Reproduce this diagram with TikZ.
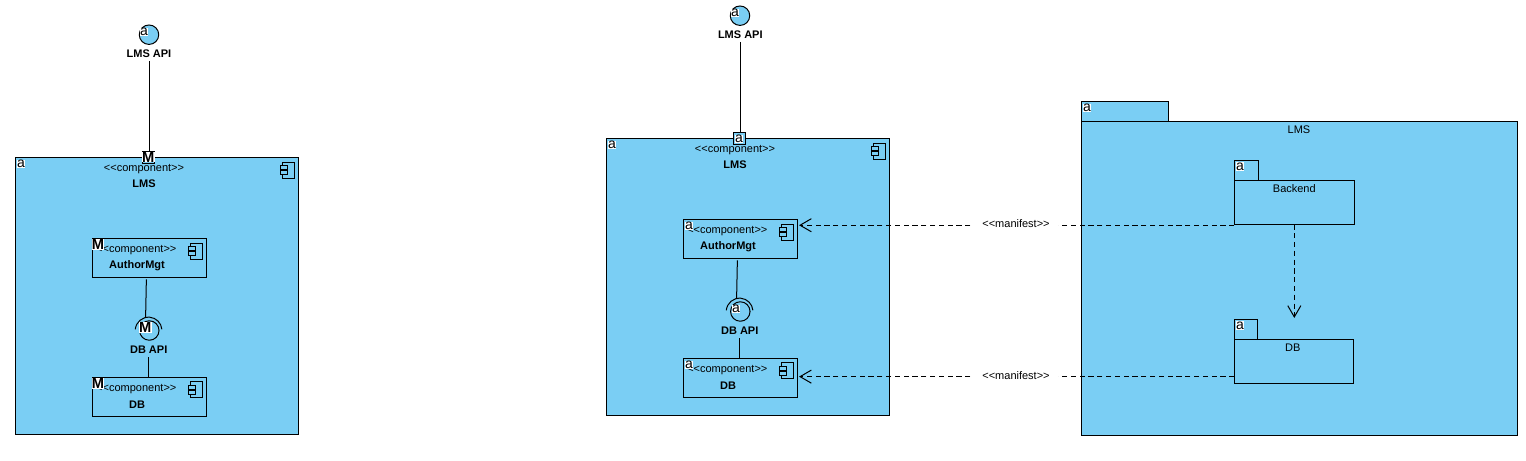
\documentclass[tikz,border=0pt]{standalone}
\usepackage{fontspec}
\setmainfont{Liberation Sans}
\usepackage{xcolor}
\usetikzlibrary{arrows.meta}

\definecolor{umlBlue}{HTML}{7ACEF4}

%small component glyph, hung from the top right corner of a box
\newcommand{\compIcon}[1]{
\begin{scope}[shift={(#1.north east)}]
\draw [fill=umlBlue] (-16,4.7) rectangle (-4.3,20.7);
\draw [fill=umlBlue] (-18.3,8) rectangle (-11,12);
\draw [fill=umlBlue] (-18.3,13) rectangle (-11,17);
\end{scope}
}
%stereotype text, the brackets kept apart so they stay two signs
\newcommand{\stereo}[1]{<{}<#1>{}>}

\begin{document}
\begin{tikzpicture}
[
x=0.75pt,
y=-0.75pt,
line width=0.75pt,
every node/.style={
	inner sep=0pt,
	outer sep=0pt,
	font=\fontsize{8.25}{10}\selectfont},
compBox/.style={
	rectangle,
	draw=black,
	fill=umlBlue,
	anchor=north west,
	minimum width=212.25pt,
	minimum height=208pt},
innerBox/.style={
	compBox,
	minimum width=85.8pt,
	minimum height=29.25pt},
pkgBox/.style={
	compBox,
	minimum width=90pt,
	minimum height=33pt},
pkgTab/.style={
	compBox,
	anchor=south west,
	minimum height=15pt},
ifaceBall/.style={
	circle,
	draw=black,
	fill=umlBlue,
	minimum size=14.6pt},
sockHalo/.style={
	circle,
	minimum size=20pt},
portBox/.style={
	rectangle,
	draw=black,
	fill=umlBlue,
	minimum size=9pt},
boldLabel/.style={
	font=\fontsize{8.25}{10}\selectfont\bfseries,
	minimum height=10.5pt},
badge/.style={
	fill=white,
	font=\fontsize{10.5}{10.5}\selectfont,
	inner xsep=0.2pt,
	inner ysep=0.2pt},
badgeM/.style={
	badge,
	font=\fontsize{11}{11}\selectfont\bfseries},
depArr/.style={
	-{Straight Barb[length=8.5pt,width=9.5pt,angle'=60]},
	dash pattern=on 3.9pt off 2.7pt,
	shorten >=1pt},
manifestLabel/.style={
	fill=white,
	minimum width=62.5pt,
	minimum height=12pt,
	yshift=0.9pt}
]
\useasboundingbox (0,0) rectangle (1526,460);

%left component
\node [compBox] (lmsL) at (15.4,157.4) {};
\node (lmsStereoL) at (144,169.5) {\stereo{component}};
\node [boldLabel] (lmsNameL) at (144,184) {LMS};
\compIcon{lmsL}
\node [badge] (lmsBadgeL) at (21,164) {a};

\node [ifaceBall] (apiBallL) at (149,34.7) {};
\node [boldLabel] (apiLabelL) at (149,54) {LMS API};
\node [badge] (apiBadgeL) at (144,32) {a};
\node [portBox] (apiPortL) at (148.6,157.2) {};
\draw (apiLabelL.south) -- (apiLabelL.south |- apiPortL.north);
\node [badgeM] (portBadgeL) at (148.2,157) {M};

\node [innerBox] (authL) at (92.3,238.3) {};
\node (authStereoL) at (136.3,250.3) {\stereo{component}};
\node [boldLabel] (authNameL) at (137,265.3) {AuthorMgt};
\compIcon{authL}
\node [badgeM] (authBadgeL) at (98,244.5) {M};

\node [innerBox] (dbL) at (92.3,377) {};
\node (dbStereoL) at (136.3,389.3) {\stereo{component}};
\node [boldLabel] (dbNameL) at (137,404.3) {DB};
\compIcon{dbL}
\node [badgeM] (dbBadgeL) at (98,383.5) {M};

\node [ifaceBall,fill=none] (dbBallL) at (149.3,330.5) {};
\node [sockHalo] (dbSockL) at (148.6,330.5) {};
\draw (dbSockL.175) arc [start angle=175,end angle=5,radius=10pt];
\node [boldLabel] (dbApiL) at (148.7,350) {DB API};
\node [badgeM] (dbApiBadgeL) at (145.3,327.5) {M};
\draw [shorten <=1.5pt] (authL.261) -- (dbSockL.103);
\draw (dbApiL.south) -- (dbApiL.south |- dbL.north);

%middle component
\node [compBox] (lmsM) at (606.4,138.4) {};
\node (lmsStereoM) at (735,150.5) {\stereo{component}};
\node [boldLabel] (lmsNameM) at (735,165) {LMS};
\compIcon{lmsM}
\node [badge] (lmsBadgeM) at (612,145) {a};

\node [ifaceBall] (apiBallM) at (740,15.7) {};
\node [boldLabel] (apiLabelM) at (740.3,35) {LMS API};
\node [badge] (apiBadgeM) at (735,13) {a};
\node [portBox] (apiPortM) at (739.6,138.2) {};
\draw (apiLabelM.south) -- (apiLabelM.south |- apiPortM.north);
\node [badge] (portBadgeM) at (739,139) {a};

\node [innerBox] (authM) at (683.3,219.3) {};
\node (authStereoM) at (727.3,231.3) {\stereo{component}};
\node [boldLabel] (authNameM) at (728,246.3) {AuthorMgt};
\compIcon{authM}
\node [badge] (authBadgeM) at (689,226) {a};

\node [innerBox] (dbM) at (683.3,358) {};
\node (dbStereoM) at (727.3,370.3) {\stereo{component}};
\node [boldLabel] (dbNameM) at (728,385.3) {DB};
\compIcon{dbM}
\node [badge] (dbBadgeM) at (689,365) {a};

\node [ifaceBall,fill=none] (dbBallM) at (740.3,311.5) {};
\node [sockHalo] (dbSockM) at (739.6,311.5) {};
\draw (dbSockM.175) arc [start angle=175,end angle=5,radius=10pt];
\node [boldLabel] (dbApiM) at (739.7,331) {DB API};
\node [badge] (dbApiBadgeM) at (736,309) {a};
\draw [shorten <=1.5pt] (authM.261) -- (dbSockM.103);
\draw (dbApiM.south) -- (dbApiM.south |- dbM.north);

%right package
\node [compBox,minimum width=327pt,minimum height=235.5pt] (lmsPkg) at (1081.4,121.3) {};
\node [pkgTab,minimum width=65.2pt] (lmsTab) at (lmsPkg.north west) {};
\node (lmsPkgName) at (1299,130) {LMS};
\node [badge] (lmsPkgBadge) at (1087,108) {a};

\node [pkgBox] (backendPkg) at (1234.3,180.3) {};
\node [pkgTab,minimum width=18pt] (backendTab) at (backendPkg.north west) {};
\node (backendName) at (1294.3,189) {Backend};
\node [badge] (backendBadge) at (1240,166.5) {a};

\node [pkgBox,minimum width=89.6pt] (dbPkg) at (1234.3,339.3) {};
\node [pkgTab,minimum width=17.3pt] (dbTab) at (dbPkg.north west) {};
\node (dbPkgName) at (1292.7,348) {DB};
\node [badge] (dbPkgBadge) at (1240,325.5) {a};

%dependencies
\draw [depArr] (backendPkg.south) -- (backendPkg.south |- dbTab.north);
\draw [depArr] ([yshift=-0.7pt]backendPkg.south west) -- ([yshift=-0.7pt]backendPkg.south west -| authM.east)
	node [midway,manifestLabel] (manifestA) {\stereo{manifest}};
\draw [depArr] ([yshift=5pt]dbPkg.south west) -- ([yshift=5pt]dbPkg.south west -| dbM.east)
	node [midway,manifestLabel] (manifestB) {\stereo{manifest}};

\end{tikzpicture}
\end{document}
